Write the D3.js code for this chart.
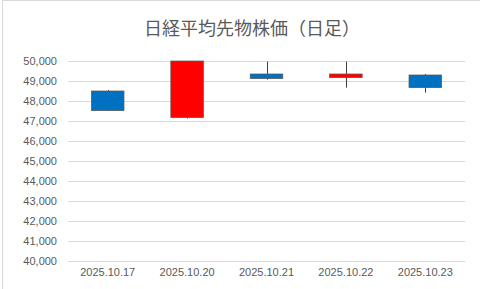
<!DOCTYPE html>
<html>
<head>
<meta charset="utf-8">
<script src="https://cdn.jsdelivr.net/npm/d3@7"></script>
<style>
  body { margin: 0; background: #fff; }
  svg { display: block; }
</style>
</head>
<body>
<script>
// daily candles, red = up, blue = down
const dates = ['2025.10.17', '2025.10.20', '2025.10.21', '2025.10.22', '2025.10.23'];
const opens  = [48500, 47170, 49350, 49170, 49300];
const highs  = [48550, 50000, 49970, 49970, 49350];
const lows   = [47500, 47120, 49070, 48670, 48420];
const closes = [47520, 50000, 49120, 49350, 48670];
const yTicks = [40000, 41000, 42000, 43000, 44000, 45000, 46000, 47000, 48000, 49000, 50000];

const w = 480;
const h = 289;
const m = {top: 61, right: 15, bottom: 28, left: 68};

const svg = d3.select('body')
              .append('svg')
              .attr('width', w)
              .attr('height', h)

// chart area border
svg.append('rect')
   .attr('x', 2.5)
   .attr('y', 0.5)
   .attr('width', w + 10)
   .attr('height', h + 10)
   .attr('fill', 'none')
   .attr('stroke', '#d9d9d9')

svg.append('text')
   .attr('x', 252)
   .attr('y', 27)
   .attr('text-anchor', 'middle')
   .attr('dominant-baseline', 'central')
   .style('font-family', '"Noto Sans CJK JP", sans-serif')
   .style('font-size', '18px')
   .attr('fill', '#595959')
   .text('日経平均先物株価（日足）')

const x = d3.scaleBand()
            .domain(dates)
            .range([m.left, w - m.right])

const y = d3.scaleLinear()
            .domain([40000, 50000])
            .range([h - m.bottom, m.top])

const yAxis = d3.axisLeft(y)
                .tickValues(yTicks)
                .tickFormat(d3.format(','))
                .tickSize(-(w - m.right - m.left))
                .tickPadding(11)

svg.append('g')
   .attr('transform', `translate(${m.left},0)`)
   .call(yAxis)
   .call(g => g.select('.domain').remove())
   .call(g => g.selectAll('line').attr('stroke', '#d9d9d9'))
   .call(g => g.selectAll('text')
               .attr('fill', '#595959')
               .style('font-family', '"Liberation Sans", sans-serif')
               .style('font-size', '11px'))

const xAxis = d3.axisBottom(x)
                .tickSize(0)
                .tickPadding(7)

svg.append('g')
   .attr('transform', `translate(0,${h - m.bottom})`)
   .call(xAxis)
   .call(g => g.select('.domain').remove())
   .call(g => g.selectAll('text')
               .attr('fill', '#595959')
               .style('font-family', '"Liberation Sans", sans-serif')
               .style('font-size', '11px'))

const candles = dates.map((d, i) => ({date: d, o: opens[i], hi: highs[i], lo: lows[i], c: closes[i]}));
const bw = x.bandwidth() * 0.41;

const plot = svg.append('g')

plot.selectAll('line.wick')
    .data(candles)
    .enter()
    .append('line')
    .attr('class', 'wick')
    .attr('x1', d => Math.round(x(d.date) + x.bandwidth() / 2) + 0.5)
    .attr('x2', d => Math.round(x(d.date) + x.bandwidth() / 2) + 0.5)
    .attr('y1', d => y(d.hi))
    .attr('y2', d => y(d.lo))
    .attr('stroke', '#404040')
    .attr('stroke-width', 1)

plot.selectAll('rect.body')
    .data(candles)
    .enter()
    .append('rect')
    .attr('class', 'body')
    .attr('x', d => x(d.date) + (x.bandwidth() - bw) / 2)
    .attr('width', bw)
    .attr('y', d => y(Math.max(d.o, d.c)))
    .attr('height', d => Math.max(1, Math.abs(y(d.o) - y(d.c))))
    .attr('fill', d => d.c >= d.o ? '#ff0000' : '#0070c0')
    .attr('stroke', '#595959')
    .attr('stroke-width', 0.75)
</script>
</body>
</html>
